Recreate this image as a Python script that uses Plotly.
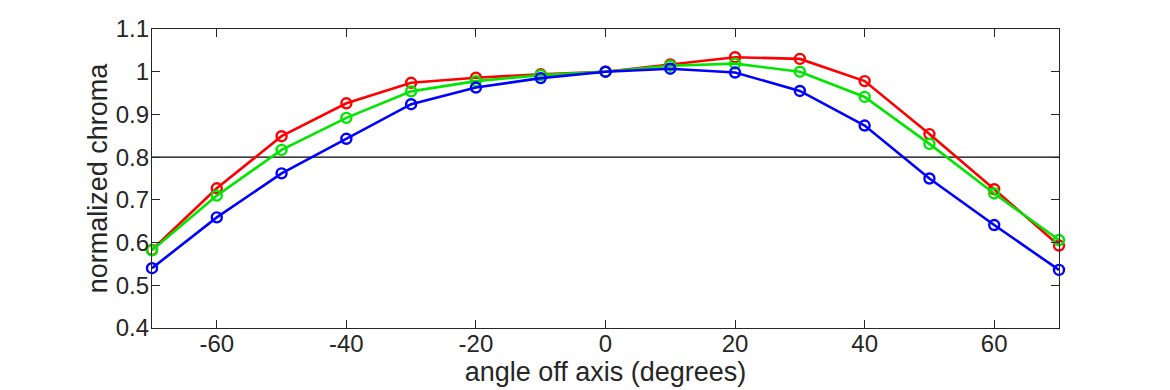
import plotly.graph_objects as go

angles = [-70, -60, -50, -40, -30, -20, -10, 0, 10, 20, 30, 40, 50, 60, 70]
red = [0.583, 0.727, 0.849, 0.926, 0.974, 0.986, 0.994, 1.0, 1.017, 1.034, 1.030, 0.978, 0.854, 0.725, 0.593]
green = [0.582, 0.710, 0.817, 0.892, 0.954, 0.978, 0.992, 1.0, 1.014, 1.019, 1.000, 0.941, 0.831, 0.715, 0.606]
blue = [0.540, 0.659, 0.762, 0.843, 0.924, 0.963, 0.985, 1.0, 1.007, 0.998, 0.955, 0.874, 0.750, 0.641, 0.536]
ref_level = 0.8
y_ticks = [0.4, 0.5, 0.6, 0.7, 0.8, 0.9, 1.0, 1.1]
y_tick_labels = ["0.4", "0.5", "0.6", "0.7", "0.8", "0.9", "1", "1.1"]
x_ticks = [-60, -40, -20, 0, 20, 40, 60]
x_tick_labels = ["-60", "-40", "-20", "0", "20", "40", "60"]

FONT = "Liberation Sans, Arial, Helvetica, sans-serif"
TXT = "#262626"

fig = go.Figure()
fig.add_shape(type="line", xref="paper", x0=0, x1=1, yref="y", y0=ref_level, y1=ref_level,
              line=dict(color="black", width=1.3), layer="below")
for vals, col in [(red, "#ff0000"), (green, "#00e600"), (blue, "#0000ff")]:
    fig.add_trace(go.Scatter(x=angles, y=vals, mode="lines+markers",
                             line=dict(color=col, width=2.6),
                             marker=dict(symbol="circle-open", size=10, color=col, line=dict(width=2.4)),
                             cliponaxis=False, showlegend=False, hoverinfo="skip"))

axis_common = dict(showgrid=False, zeroline=False, showline=True, mirror="ticks",
                   linecolor=TXT, linewidth=1.3, ticks="inside", ticklen=8,
                   tickcolor=TXT, tickwidth=1.2, automargin=False,
                   tickfont=dict(family=FONT, size=24, color=TXT))
fig.update_xaxes(range=[-70, 70], tickvals=x_ticks, ticktext=x_tick_labels,
                 ticklabelstandoff=-6,
                 title=dict(text="angle off axis (degrees)", standoff=0,
                            font=dict(family=FONT, size=27, color=TXT)),
                 **axis_common)
fig.update_yaxes(range=[0.4, 1.1], tickvals=y_ticks, ticktext=y_tick_labels,
                 ticklabelstandoff=-3,
                 title=dict(text="normalized chroma", standoff=0,
                            font=dict(family=FONT, size=27, color=TXT)),
                 **axis_common)
fig.update_layout(width=1170, height=390, paper_bgcolor="white", plot_bgcolor="white",
                  margin=dict(l=152, r=111, t=29, b=62, autoexpand=False))
fig.write_html("out.html", config={"displayModeBar": False},
               post_script="document.body.style.margin='0';")
